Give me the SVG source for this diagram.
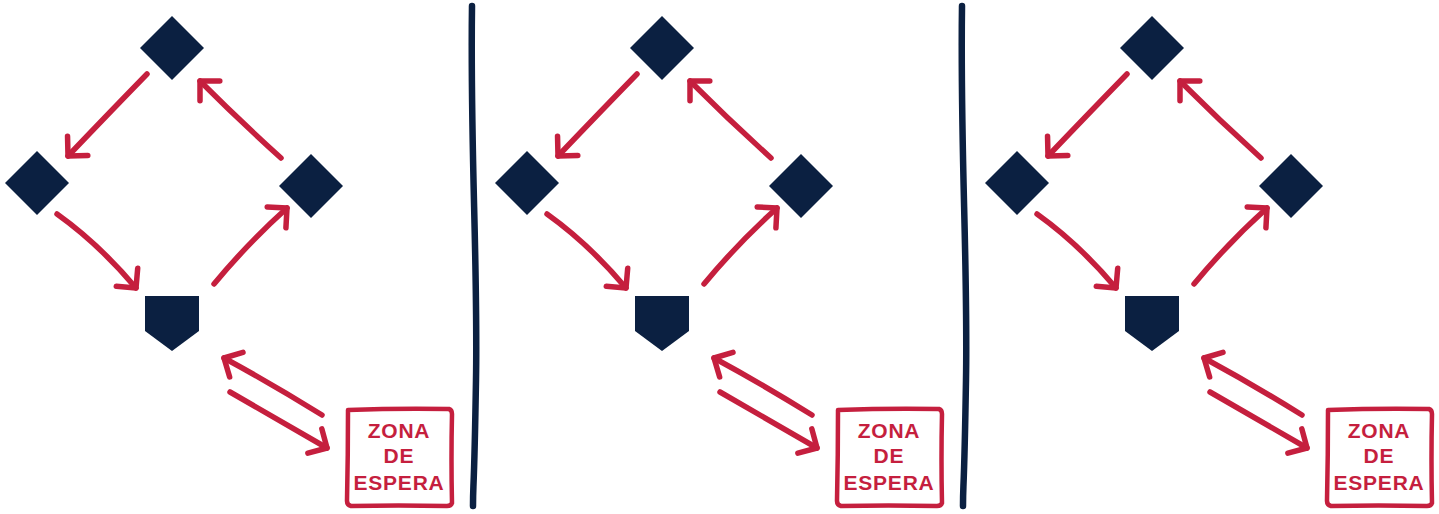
<svg xmlns="http://www.w3.org/2000/svg" width="1439" height="514" viewBox="0 0 1439 514">
<style>
.base{fill:#0b2041}
.arr{fill:none;stroke:#c51f3e;stroke-width:5.5;stroke-linecap:round;stroke-linejoin:round;marker-end:url(#ah)}
.div{fill:none;stroke:#0b2041;stroke-width:6.5;stroke-linecap:round}
.box{fill:#fff;stroke:#c51f3e;stroke-width:4.5;stroke-linejoin:round}
.lbl{font-family:"Liberation Sans",Arial,sans-serif;font-weight:bold;font-size:21px;letter-spacing:0.8px;fill:#c51f3e;text-anchor:middle}
</style>
<defs>
<marker id="ah" markerUnits="userSpaceOnUse" markerWidth="40" markerHeight="40" refX="0" refY="0" orient="auto" overflow="visible" viewBox="-20 -20 40 40">
<path d="M-14,-14 L0,0 L-14,14" fill="none" stroke="#c51f3e" stroke-width="5.5" stroke-linecap="round" stroke-linejoin="round"/>
</marker>
</defs>
<rect width="1439" height="514" fill="#fff"/>

<g id="panel1">
<g id="p1-second"><polygon class="base" points="172,16 204,48 172,80 140,48"/></g>
<g id="p1-third"><polygon class="base" points="37,151 69,183 37,215 5,183"/></g>
<g id="p1-first"><polygon class="base" points="311,154 343,186 311,218 279,186"/></g>
<g id="p1-home"><polygon class="base" points="145,296 199,296 199,331 172,351 145,331"/></g>
<g id="p1-zone"><path class="box" d="M348,410 Q400,408 449,409 Q452,410 452,414 Q451,460 452,503 Q451,506 447,506 Q398,505 351,506 Q347,505 347,501 Q348,455 348,410 Z"/>
<text class="lbl" x="399" y="438">ZONA</text><text class="lbl" x="399" y="463">DE</text><text class="lbl" x="399" y="490">ESPERA</text></g>
</g>

<g id="panel2">
<g id="p2-second"><polygon class="base" points="662,16 694,48 662,80 630,48"/></g>
<g id="p2-third"><polygon class="base" points="527,151 559,183 527,215 495,183"/></g>
<g id="p2-first"><polygon class="base" points="801,154 833,186 801,218 769,186"/></g>
<g id="p2-home"><polygon class="base" points="635,296 689,296 689,331 662,351 635,331"/></g>
<g id="p2-zone"><path class="box" d="M838,410 Q890,408 939,409 Q942,410 942,414 Q941,460 942,503 Q941,506 937,506 Q888,505 841,506 Q837,505 837,501 Q838,455 838,410 Z"/>
<text class="lbl" x="889" y="438">ZONA</text><text class="lbl" x="889" y="463">DE</text><text class="lbl" x="889" y="490">ESPERA</text></g>
</g>

<g id="panel3">
<g id="p3-second"><polygon class="base" points="1152,16 1184,48 1152,80 1120,48"/></g>
<g id="p3-third"><polygon class="base" points="1017,151 1049,183 1017,215 985,183"/></g>
<g id="p3-first"><polygon class="base" points="1291,154 1323,186 1291,218 1259,186"/></g>
<g id="p3-home"><polygon class="base" points="1125,296 1179,296 1179,331 1152,351 1125,331"/></g>
<g id="p3-zone"><path class="box" d="M1328,410 Q1380,408 1429,409 Q1432,410 1432,414 Q1431,460 1432,503 Q1431,506 1427,506 Q1378,505 1331,506 Q1327,505 1327,501 Q1328,455 1328,410 Z"/>
<text class="lbl" x="1379" y="438">ZONA</text><text class="lbl" x="1379" y="463">DE</text><text class="lbl" x="1379" y="490">ESPERA</text></g>
</g>

<g id="dividers">
<path class="div" d="M472,6 C470,150 478,260 476,380 S473,480 473,506"/>
<path class="div" d="M962,6 C960,150 968,260 966,380 S963,480 963,506"/>
</g>

<g id="connectors">
<g transform="translate(0,0)">
<path class="arr" d="M147,74 Q110,112 68,156"/>
<path class="arr" d="M57,214 Q99,244 136,288"/>
<path class="arr" d="M214,284 Q248,243 287,208"/>
<path class="arr" d="M281,158 Q240,121 200,81"/>
<path class="arr" d="M322,415 Q272,384 224,358"/>
<path class="arr" d="M230,392 Q280,421 327,448"/>
</g>
<g transform="translate(490,0)">
<path class="arr" d="M147,74 Q110,112 68,156"/>
<path class="arr" d="M57,214 Q99,244 136,288"/>
<path class="arr" d="M214,284 Q248,243 287,208"/>
<path class="arr" d="M281,158 Q240,121 200,81"/>
<path class="arr" d="M322,415 Q272,384 224,358"/>
<path class="arr" d="M230,392 Q280,421 327,448"/>
</g>
<g transform="translate(980,0)">
<path class="arr" d="M147,74 Q110,112 68,156"/>
<path class="arr" d="M57,214 Q99,244 136,288"/>
<path class="arr" d="M214,284 Q248,243 287,208"/>
<path class="arr" d="M281,158 Q240,121 200,81"/>
<path class="arr" d="M322,415 Q272,384 224,358"/>
<path class="arr" d="M230,392 Q280,421 327,448"/>
</g>
</g>
</svg>
